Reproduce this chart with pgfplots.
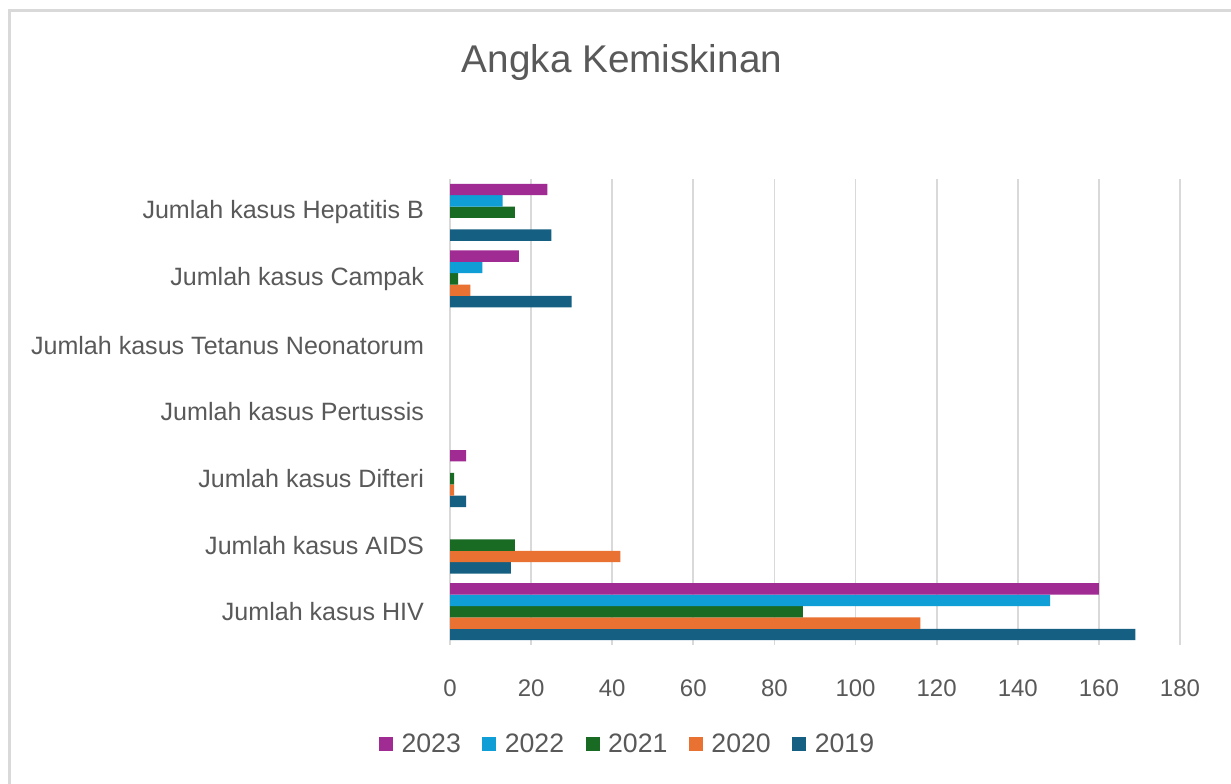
\documentclass[border=0pt]{standalone}
\usepackage{pgfplots}
\pgfplotsset{compat=1.18}
\usepackage{fontspec}
\setmainfont{Liberation Sans}
\definecolor{c23}{HTML}{A02B93}
\definecolor{c22}{HTML}{0F9ED5}
\definecolor{c21}{HTML}{196B24}
\definecolor{c20}{HTML}{E97132}
\definecolor{c19}{HTML}{156082}
\definecolor{txt}{HTML}{595959}
\definecolor{grd}{HTML}{D9D9D9}
\begin{document}
\begin{tikzpicture}
\clip (0pt,0pt) rectangle (923.25pt,587.25pt);
\fill[white] (0pt,0pt) rectangle (923.25pt,587.25pt);
\draw[grd, line width=2.25pt] (7.125pt,-10pt) -- (7.125pt,579pt) -- (940pt,579pt);
\node[txt, font=\fontsize{29}{33}\selectfont] at (466.5pt,540pt) {Angka Kemiskinan};
\begin{axis}[
  at={(337.5pt,103.5pt)}, anchor=south west,
  scale only axis, width=547.5pt, height=349.5pt,
  xbar=0pt, bar width=8.55pt,
  xmin=0, xmax=180, ymin=-0.5, ymax=6.5,
  xtick={0,20,...,180},
  ytick={0,1,2,3,4,5,6},
  yticklabels={Jumlah kasus HIV, Jumlah kasus AIDS, Jumlah kasus Difteri, Jumlah kasus Pertussis, Jumlah kasus Tetanus Neonatorum, Jumlah kasus Campak, Jumlah kasus Hepatitis B},
  xmajorgrids, grid style={grd, line width=1.3pt},
  axis line style={draw=none},
  major tick length=0pt,
  /pgf/number format/assume math mode=true,
  ticklabel style={txt, font=\fontsize{18}{20}\selectfont},
  xticklabel style={yshift=-22.5pt},
  yticklabel style={xshift=-16pt, font=\fontsize{18.8}{21}\selectfont},
  legend style={at={(0.2436,-0.2125)}, anchor=center, draw=none, fill=none,
    legend columns=5, font=\fontsize{20}{22}\selectfont, text=txt,
    /tikz/every even column/.append style={column sep=14pt}},
  legend cell align=left,
  reverse legend,
  legend image code/.code={\fill[#1] (0pt,-5.2pt) rectangle (10.5pt,5.2pt); \path (15pt,0pt);},
]
\addplot[fill=c19, draw=none] coordinates {(169,0) (15,1) (4,2) (30,5) (25,6)};
\addplot[fill=c20, draw=none] coordinates {(116,0) (42,1) (1,2) (5,5)};
\addplot[fill=c21, draw=none] coordinates {(87,0) (16,1) (1,2) (2,5) (16,6)};
\addplot[fill=c22, draw=none] coordinates {(148,0) (8,5) (13,6)};
\addplot[fill=c23, draw=none] coordinates {(160,0) (4,2) (17,5) (24,6)};
\legend{2019,2020,2021,2022,2023}
\end{axis}
\end{tikzpicture}
\end{document}
